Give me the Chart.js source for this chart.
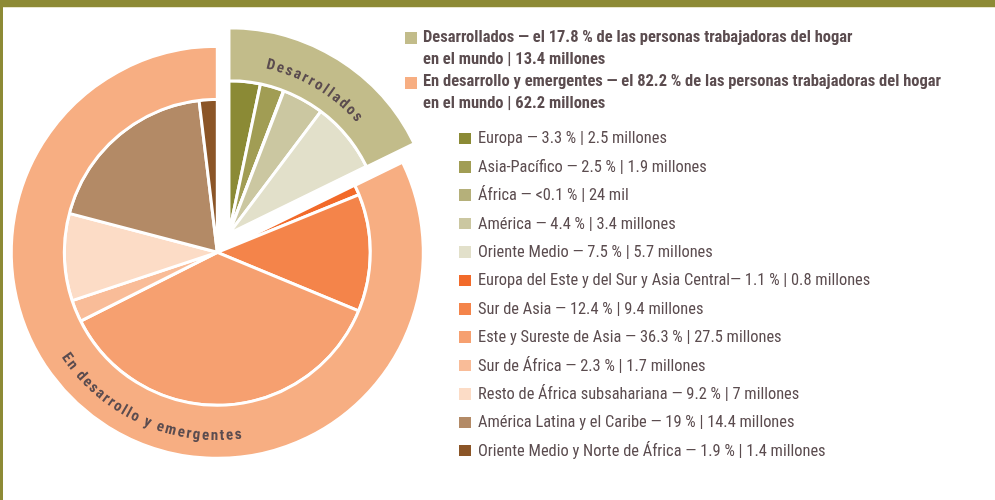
<!DOCTYPE html>
<html>
<head>
<meta charset="utf-8">
<title>Personas trabajadoras del hogar</title>
<script src="https://cdn.jsdelivr.net/npm/chart.js"></script>
<style>
    body { margin: 0; background: #fff; }
    #frame { position: relative; width: 995px; height: 500px; overflow: hidden;
             font-family: "Roboto Condensed", "Liberation Sans Narrow", "DejaVu Sans Condensed", Roboto, sans-serif;
             color: #5b4c4f; }
    #topbar { position: absolute; left: 0; top: 0; width: 995px; height: 7px; background: #8d8a35;
              border-bottom: 1px solid #e9e6cc; }
    #leftbar { position: absolute; left: 0; top: 0; width: 2.5px; height: 500px; background: #8d8a35; }
    #pie { position: absolute; left: 0; top: 0; }
    .sw { position: absolute; width: 12px; height: 12px; }
    .txt { position: absolute; white-space: nowrap; }
    .grp { font-weight: bold; font-size: 16.5px; line-height: 22.1px; }
    .reg { font-size: 16.4px; line-height: 20px; }
</style>
</head>
<body>
<div id="frame">
    <canvas id="pie" width="460" height="500"></canvas>
    <div id="topbar"></div>
    <div id="leftbar"></div>
    <div id="legend"></div>
</div>
<script>
    // outer ring
    const groupNames = ['Desarrollados', 'En desarrollo y emergentes'];
    const groupShares = [17.8, 82.2];
    const groupMillions = ['13.4 millones', '62.2 millones'];
    const groupColors = ['#c2bc8a', '#f7ae82'];

    // inner pie
    const regionNames = ['Europa', 'Asia-Pacífico', 'África', 'América', 'Oriente Medio',
        'Europa del Este y del Sur y Asia Central', 'Sur de Asia', 'Este y Sureste de Asia',
        'Sur de África', 'Resto de África subsahariana', 'América Latina y el Caribe',
        'Oriente Medio y Norte de África'];
    const regionShares = [3.3, 2.5, 0.05, 4.4, 7.5, 1.1, 12.4, 36.3, 2.3, 9.2, 19, 1.9];
    const regionShareLabels = ['3.3 %', '2.5 %', '<0.1 %', '4.4 %', '7.5 %', '1.1 %', '12.4 %',
        '36.3 %', '2.3 %', '9.2 %', '19 %', '1.9 %'];
    const regionCounts = ['2.5 millones', '1.9 millones', '24 mil', '3.4 millones', '5.7 millones',
        '0.8 millones', '9.4 millones', '27.5 millones', '1.7 millones', '7 millones',
        '14.4 millones', '1.4 millones'];
    const regionDash = [' — ', ' — ', ' — ', ' — ', ' — ', '— ', ' — ', ' — ', ' — ', ' — ', ' — ', ' — '];
    const regionGroup = [0, 0, 0, 0, 0, 1, 1, 1, 1, 1, 1, 1];
    const regionColors = ['#8b8a35', '#a19d54', '#b5b07a', '#cbc7a1', '#e2e0ca', '#f26a2a',
        '#f4844a', '#f6a070', '#f9bc98', '#fcdcc6', '#b38a66', '#8b5527'];

    const textColor = '#5b4c4f';
    const explode = 22;

    // legend
    const legend = document.getElementById('legend');
    function add(cls, css, html) {
        const d = document.createElement('div');
        d.className = cls;
        Object.assign(d.style, css);
        if (html) d.innerHTML = html;
        legend.appendChild(d);
    }
    groupNames.forEach((name, i) => {
        add('sw', { left: '405px', top: (32 + i * 44.8) + 'px', background: groupColors[i] });
        add('txt grp', { left: '423px', top: (26 + i * 44.4) + 'px' },
            name + ' — el ' + groupShares[i] + ' % de las personas trabajadoras del hogar<br>en el mundo | ' + groupMillions[i]);
    });
    regionNames.forEach((name, i) => {
        const top = 132.7 + i * 28.39;
        add('sw', { left: '459px', top: top + 'px', width: '11.5px', height: '11.5px', background: regionColors[i] });
        add('txt reg', { left: '478px', top: (top - 4.3) + 'px' },
            name + regionDash[i] + regionShareLabels[i] + ' | ' + regionCounts[i]);
    });

    // move the whole "Desarrollados" block out together, like an exploded slice
    const shiftDeveloped = {
        id: 'shiftDeveloped',
        afterDatasetsUpdate(chart) {
            const total = groupShares.reduce((a, b) => a + b, 0);
            const mid = -Math.PI / 2 + Math.PI * groupShares[0] / total;
            const dx = Math.cos(mid) * explode, dy = Math.sin(mid) * explode;
            const move = el => { el.x += dx; el.y += dy; };
            move(chart.getDatasetMeta(0).data[0]);
            chart.getDatasetMeta(1).data.forEach((el, i) => { if (regionGroup[i] === 0) move(el); });
        }
    };

    // text written along the outer ring
    function arcText(ctx, text, cx, cy, r, centerDeg, spanDeg, inward) {
        const chars = text.split('');
        const w = chars.map(c => ctx.measureText(c).width);
        const sum = w.reduce((a, b) => a + b, 0);
        const target = spanDeg * Math.PI / 180 * r;
        const gap = (target - (sum - w[0] / 2 - w[w.length - 1] / 2)) / (chars.length - 1);
        const full = sum + gap * (chars.length - 1);
        const c = (centerDeg - 90) * Math.PI / 180;
        let a = inward ? c + full / 2 / r : c - full / 2 / r;
        chars.forEach((ch, i) => {
            const ac = inward ? a - w[i] / 2 / r : a + w[i] / 2 / r;
            ctx.save();
            ctx.translate(cx + r * Math.cos(ac), cy + r * Math.sin(ac));
            ctx.rotate(inward ? ac - Math.PI / 2 : ac + Math.PI / 2);
            ctx.fillText(ch, 0, 0);
            ctx.restore();
            a += (inward ? -1 : 1) * (w[i] + gap) / r;
        });
    }
    const ringLabels = {
        id: 'ringLabels',
        afterDatasetsDraw(chart) {
            const ctx = chart.ctx;
            const arcs = chart.getDatasetMeta(0).data;
            ctx.save();
            ctx.fillStyle = textColor;
            ctx.font = 'bold 15px "Roboto Condensed", "Liberation Sans Narrow", "DejaVu Sans Condensed", Roboto, sans-serif';
            ctx.textAlign = 'center';
            ctx.textBaseline = 'middle';
            arcText(ctx, groupNames[0], arcs[0].x, arcs[0].y, 173, 30.7, 33.8, false);
            arcText(ctx, groupNames[1], arcs[1].x, arcs[1].y, 184, 204.3, 61.5, true);
            ctx.restore();
        }
    };

    new Chart(document.getElementById('pie'), {
        type: 'pie',
        data: {
            labels: regionNames,
            datasets: [{
                label: 'Grupo',
                data: groupShares,
                backgroundColor: groupColors,
                borderColor: '#fff',
                borderWidth: 3,
                weight: 53,
                clip: false
            }, {
                label: 'Región',
                data: regionShares,
                backgroundColor: regionColors,
                borderColor: '#fff',
                borderWidth: 3,
                weight: 153,
                clip: false
            }]
        },
        options: {
            responsive: false,
            animation: false,
            radius: 206,
            layout: { padding: { left: 10, right: 35.4, top: 40, bottom: 35.4 } },
            plugins: {
                legend: { display: false },
                tooltip: { enabled: false }
            }
        },
        plugins: [shiftDeveloped, ringLabels]
    });
</script>
</body>
</html>
